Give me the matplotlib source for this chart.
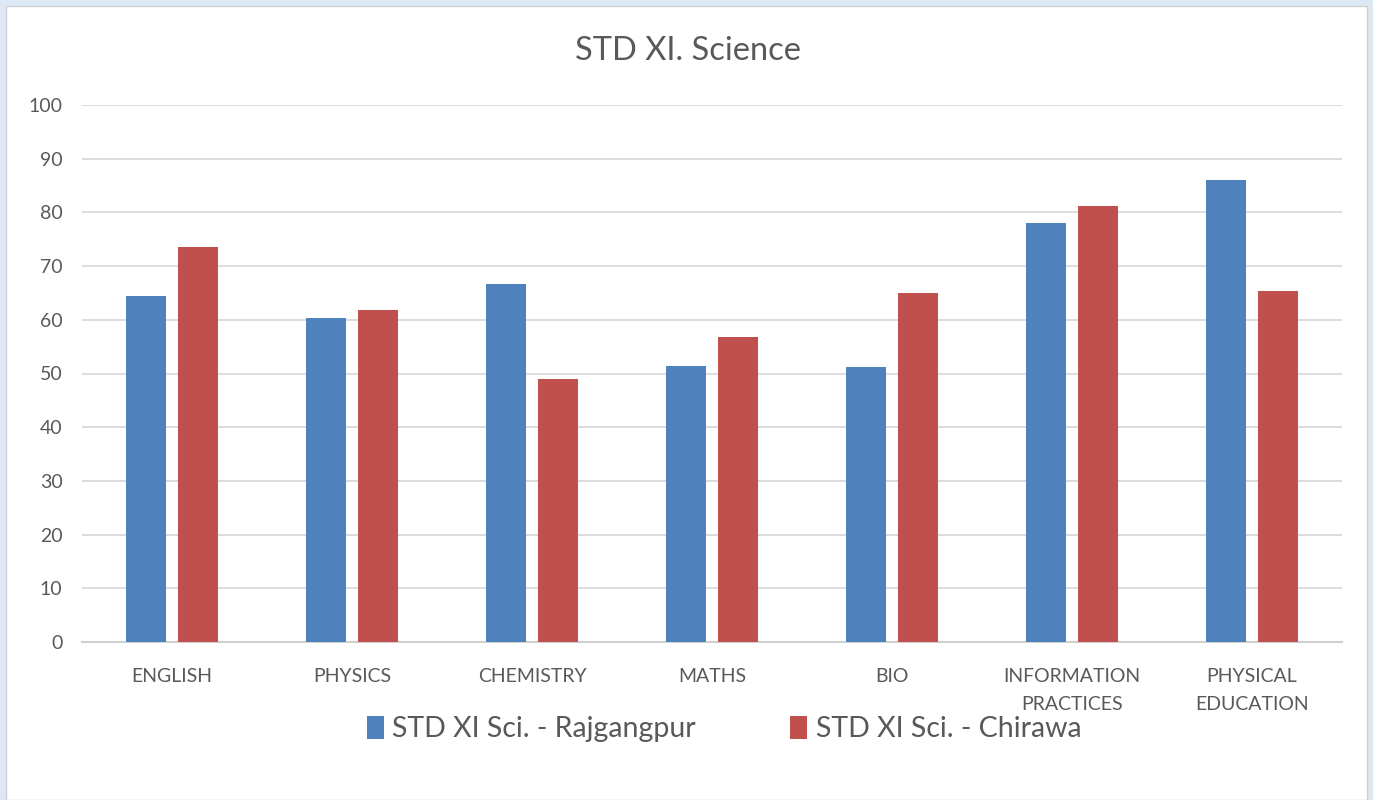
import numpy as np
import matplotlib
matplotlib.use("Agg")
import matplotlib.pyplot as plt
from matplotlib.patches import Rectangle

subjects = ["ENGLISH", "PHYSICS", "CHEMISTRY", "MATHS", "BIO",
            "INFORMATION\nPRACTICES", "PHYSICAL\nEDUCATION"]
rajgangpur = [64.4, 60.3, 66.7, 51.4, 51.3, 78.1, 86.0]
chirawa = [73.6, 61.8, 49.0, 56.8, 65.0, 81.2, 65.4]
series_names = ["STD XI Sci. - Rajgangpur", "STD XI Sci. - Chirawa"]
yticks = [0, 10, 20, 30, 40, 50, 60, 70, 80, 90, 100]

plt.rcParams["font.family"] = ["Lato", "DejaVu Sans"]

fig = plt.figure(figsize=(13.73, 8), dpi=100, facecolor="#dce8f4")
# white chart panel over the light blue page
fig.patches.append(Rectangle((6 / 1373, 0), 1361 / 1373, 794 / 800,
                             transform=fig.transFigure, facecolor="white",
                             edgecolor="#d0d0d0", lw=1, zorder=-5))

ax = fig.add_axes([82 / 1373, 1 - 642 / 800, 1260 / 1373, 537 / 800])
ax.set_facecolor("none")
ax.set_zorder(2)

x = np.arange(len(subjects))
w = 0.222
off = 0.142
ax.bar(x - off, rajgangpur, w, color="#4f81bd", label=series_names[0], zorder=3)
ax.bar(x + off, chirawa, w, color="#c0504d", label=series_names[1], zorder=3)

ax.set_xlim(-0.5, len(subjects) - 0.5)
ax.set_ylim(0, 100)
ax.set_yticks(yticks)
ax.set_xticks(x)
ax.set_xticklabels(subjects, fontsize=14, color="#595959", linespacing=1.75)
ax.tick_params(axis="y", labelsize=14, labelcolor="#595959", length=0, pad=14)
ax.tick_params(axis="x", length=0, pad=19)
ax.grid(axis="y", color="#d9d9d9", lw=1.3, zorder=0)
for s in ["top", "right", "left"]:
    ax.spines[s].set_visible(False)
ax.spines["bottom"].set_color("#d0d0d0")
ax.spines["bottom"].set_linewidth(1.5)

fig.text(688 / 1373, 1 - 51 / 800, "STD XI. Science", ha="center", va="center",
         fontsize=23.5, color="#595959")

leg = fig.legend(loc="center", bbox_to_anchor=(724 / 1373, 1 - 729 / 800), ncol=2,
                 frameon=False, fontsize=20.5, handlelength=0.6, handleheight=0.9,
                 handletextpad=0.3, columnspacing=3.3)
for t in leg.get_texts():
    t.set_color("#595959")

fig.savefig("out.png", dpi=100, facecolor=fig.get_facecolor())
